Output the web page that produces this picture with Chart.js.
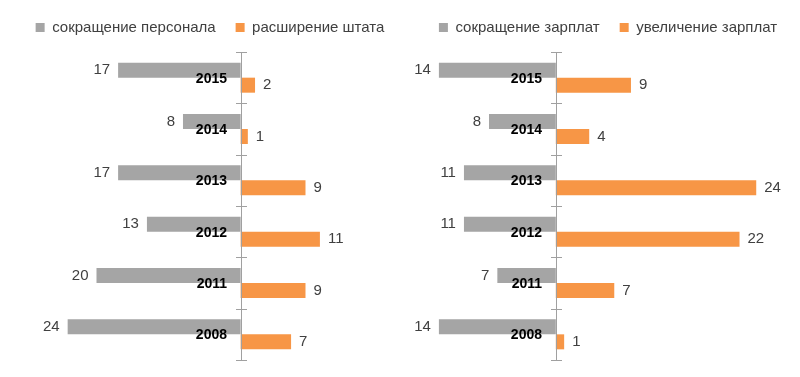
<!DOCTYPE html>
<html lang="ru">
<head>
    <meta charset="UTF-8">
    <title>Персонал и зарплаты</title>
    <script src="https://cdn.jsdelivr.net/npm/chart.js@4.4.0/dist/chart.umd.min.js"></script>
    <style>
        html, body { margin: 0; background: #fff; overflow: hidden; width: 800px; height: 377px; }
        .panel { position: absolute; top: 0; width: 420px; height: 377px; }
        #leftPanel { left: 0; }
        #rightPanel { left: 398px; }
    </style>
</head>
<body>
    <div class="panel" id="leftPanel"><canvas id="staffChart"></canvas></div>
    <div class="panel" id="rightPanel"><canvas id="salaryChart"></canvas></div>

    <script>
        // Data
        const years = ['2015', '2014', '2013', '2012', '2011', '2008'];
        const staffCuts = [17, 8, 17, 13, 20, 24];
        const staffGrowth = [2, 1, 9, 11, 9, 7];
        const salaryCuts = [14, 8, 11, 11, 7, 14];
        const salaryRises = [9, 4, 24, 22, 7, 1];

        const GRAY = '#A5A5A5';
        const ORANGE = '#F79646';
        const FONT = 'Arial, "Liberation Sans", sans-serif';

        // a bit more room between the legend and the bars
        const legendSpacer = {
            id: 'legendSpacer',
            beforeInit(chart) {
                const fit = chart.legend.fit;
                chart.legend.fit = function () {
                    fit.call(this);
                    this.height += 7;
                };
            }
        };

        // axis line, ticks across it, year labels and value labels
        const decorPlugin = {
            id: 'decor',
            afterDatasetsDraw(chart) {
                const ctx = chart.ctx;
                const xs = chart.scales.x;
                const ys = chart.scales.y;
                const x0 = Math.round(xs.getPixelForValue(0));
                const step = ys.height / years.length;

                ctx.save();
                ctx.strokeStyle = '#A0A0A0';
                ctx.lineWidth = 1;
                ctx.beginPath();
                ctx.moveTo(x0 + 0.5, ys.top);
                ctx.lineTo(x0 + 0.5, ys.bottom);
                for (let i = 0; i <= years.length; i++) {
                    const y = Math.round(ys.top + i * step) + 0.5;
                    ctx.moveTo(x0 - 5, y);
                    ctx.lineTo(x0 + 6, y);
                }
                ctx.stroke();

                // year labels
                ctx.fillStyle = '#000';
                ctx.font = 'bold 14px ' + FONT;
                ctx.textAlign = 'right';
                ctx.textBaseline = 'middle';
                years.forEach((yr, i) => {
                    ctx.fillText(yr, x0 - 14, ys.getPixelForValue(i) + 1);
                });

                // value labels
                ctx.fillStyle = '#404040';
                ctx.font = '15px ' + FONT;
                const raw = chart.options.rawValues;
                chart.getDatasetMeta(0).data.forEach((bar, i) => {
                    ctx.textAlign = 'right';
                    ctx.fillText(raw[0][i], bar.x - 8, bar.y);
                });
                chart.getDatasetMeta(1).data.forEach((bar, i) => {
                    ctx.textAlign = 'left';
                    ctx.fillText(raw[1][i], bar.x + 8, bar.y);
                });
                ctx.restore();
            }
        };

        function makeChart(id, labels, cuts, rises, xMin, xMax) {
            return new Chart(document.getElementById(id), {
                type: 'bar',
                data: {
                    labels: years,
                    datasets: [{
                        label: labels[0],
                        data: cuts.map(v => -v),
                        backgroundColor: GRAY
                    }, {
                        label: labels[1],
                        data: rises,
                        backgroundColor: ORANGE
                    }]
                },
                options: {
                    indexAxis: 'y',
                    responsive: true,
                    maintainAspectRatio: false,
                    animation: false,
                    rawValues: [cuts, rises],
                    datasets: {
                        bar: { barPercentage: 1, categoryPercentage: 0.585 }
                    },
                    layout: { padding: { left: 10, right: 10, top: 0, bottom: 17 } },
                    scales: {
                        x: { display: false, min: xMin, max: xMax },
                        y: { display: false, offset: true }
                    },
                    plugins: {
                        legend: {
                            position: 'top',
                            labels: {
                                boxWidth: 9,
                                boxHeight: 9,
                                padding: 20,
                                color: '#404040',
                                font: { family: FONT, size: 15 }
                            }
                        },
                        tooltip: { enabled: false }
                    }
                },
                plugins: [legendSpacer, decorPlugin]
            });
        }

        makeChart('staffChart', ['сокращение персонала', 'расширение штата'],
            staffCuts, staffGrowth, -32, 23.5);

        makeChart('salaryChart', ['сокращение зарплат', 'увеличение зарплат'],
            salaryCuts, salaryRises, -17.7, 30.2);
    </script>
</body>
</html>
